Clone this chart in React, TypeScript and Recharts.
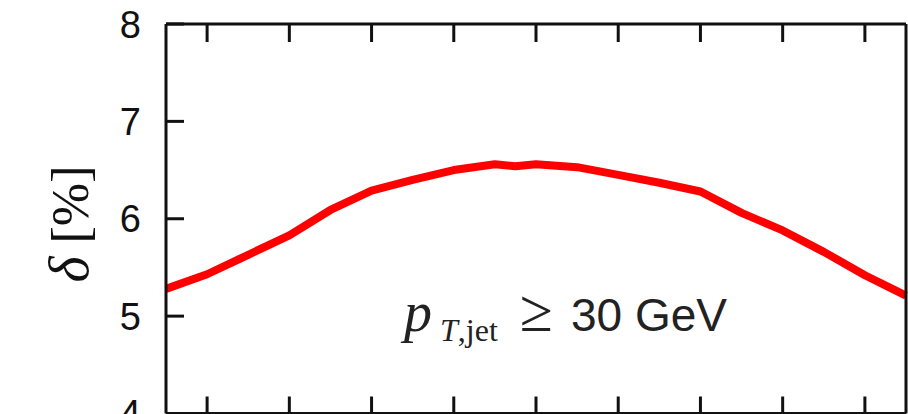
import React from 'react';
import { LineChart, Line, XAxis, YAxis } from 'recharts';

// rapidity bins and the relative difference delta in percent
const rapidity = [-4.5, -4, -3.5, -3, -2.5, -2, -1.5, -1, -0.5, -0.25, 0, 0.5, 1, 1.5, 2, 2.5, 3, 3.5, 4, 4.5];
const delta = [5.28, 5.43, 5.63, 5.83, 6.09, 6.29, 6.4, 6.5, 6.56, 6.54, 6.56, 6.53, 6.45, 6.37, 6.28, 6.06, 5.88, 5.66, 5.42, 5.21];
const xTicks = [-4, -3, -2, -1, 0, 1, 2, 3, 4];
const yTicks = [4, 5, 6, 7, 8];

const data = rapidity.map((y, i) => ({ y, delta: delta[i] }));

const INK = '#111';
const SANS = '"Liberation Sans", Arial, sans-serif';
const SERIF = '"Liberation Serif", "Times New Roman", serif';

// ticks point into the frame, labels sit outside
const LeftTick = (props: any) => {
  const { x, y, payload } = props;
  return (
    <g>
      <line x1={x} x2={x + 18} y1={y} y2={y} stroke={INK} strokeWidth={3} />
      <text x={x - 25} y={y} dy="0.36em" textAnchor="end" fontSize={38} fontFamily={SANS} fill={INK}>
        {payload.value}
      </text>
    </g>
  );
};

const RightTick = (props: any) => {
  const { x, y } = props;
  return <line x1={x - 18} x2={x} y1={y} y2={y} stroke={INK} strokeWidth={3} />;
};

const TopTick = (props: any) => {
  const { x, y } = props;
  return <line x1={x} x2={x} y1={y} y2={y + 18} stroke={INK} strokeWidth={3} />;
};

const BottomTick = (props: any) => {
  const { x, y } = props;
  return <line x1={x} x2={x} y1={y - 17} y2={y} stroke={INK} strokeWidth={3} />;
};

export default function App() {
  return (
    <div style={{ position: 'absolute', left: 0, top: 0, background: '#fff' }}>
      <LineChart width={908} height={440} data={data} margin={{ top: 0, right: 1, bottom: 0.5, left: 0 }}>
        <XAxis
          xAxisId="top"
          orientation="top"
          dataKey="y"
          type="number"
          domain={[-4.5, 4.5]}
          ticks={xTicks}
          height={24}
          tickSize={0}
          tickMargin={0}
          tickLine={false}
          axisLine={{ stroke: INK, strokeWidth: 3 }}
          tick={<TopTick />}
        />
        <XAxis
          xAxisId="bottom"
          orientation="bottom"
          dataKey="y"
          type="number"
          domain={[-4.5, 4.5]}
          ticks={xTicks}
          height={26}
          tickSize={0}
          tickMargin={0}
          tickLine={false}
          axisLine={{ stroke: INK, strokeWidth: 3 }}
          tick={<BottomTick />}
        />
        <YAxis
          yAxisId="left"
          orientation="left"
          type="number"
          domain={[4, 8]}
          ticks={yTicks}
          width={166}
          tickSize={0}
          tickMargin={0}
          tickLine={false}
          axisLine={{ stroke: INK, strokeWidth: 3 }}
          tick={<LeftTick />}
        />
        <YAxis
          yAxisId="right"
          orientation="right"
          type="number"
          domain={[4, 8]}
          ticks={yTicks}
          width={1}
          tickSize={0}
          tickMargin={0}
          tickLine={false}
          axisLine={{ stroke: INK, strokeWidth: 3 }}
          tick={<RightTick />}
        />
        <Line
          xAxisId="bottom"
          yAxisId="left"
          type="linear"
          dataKey="delta"
          stroke="#ff0000"
          strokeWidth={8}
          strokeLinejoin="round"
          dot={false}
          activeDot={false}
          isAnimationActive={false}
        />
        <text transform="translate(88,224) rotate(-90)" textAnchor="middle" fill={INK} fontFamily={SERIF}>
          <tspan fontStyle="italic" fontSize={56}>δ</tspan>
          <tspan fontSize={52}> [%]</tspan>
        </text>
        <text y={331} fill="#222">
          <tspan x={404} fontFamily={SERIF} fontStyle="italic" fontSize={56}>p</tspan>
          <tspan x={440} dy={10} fontFamily={SERIF} fontStyle="italic" fontSize={32}>T</tspan>
          <tspan fontFamily={SERIF} fontSize={32}>,jet</tspan>
          <tspan x={520} dy={-10} fontFamily={SERIF} fontSize={60}>≥</tspan>
          <tspan x={571} fontFamily={SANS} fontSize={46}>30 GeV</tspan>
        </text>
      </LineChart>
    </div>
  );
}
